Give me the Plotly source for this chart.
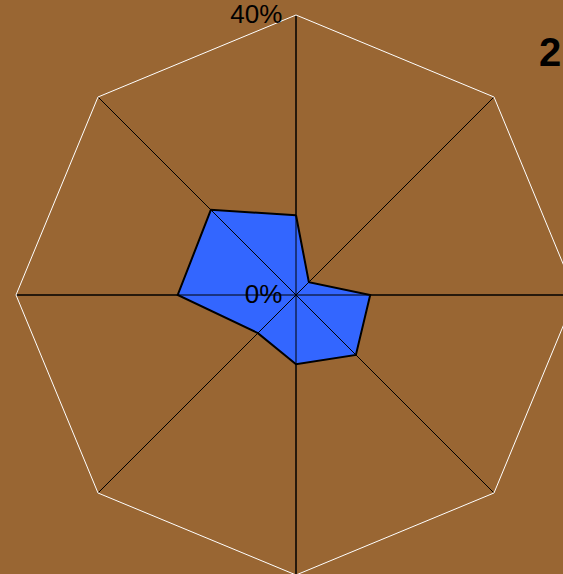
import plotly.graph_objects as go

directions = ["N", "NE", "E", "SE", "S", "SW", "W", "NW"]
shares = [11.4, 2.6, 10.6, 12.1, 9.9, 7.7, 16.9, 17.2]
radial_ticks = [0, 40]
radial_labels = ["0%", "40%"]
title_text = "2"

fig = go.Figure()
fig.add_trace(
    go.Scatterpolar(
        r=shares + shares[:1],
        theta=directions + directions[:1],
        mode="lines",
        fill="toself",
        fillcolor="#3366ff",
        line={"color": "#000000", "width": 2},
        hoverinfo="skip",
        showlegend=False,
    )
)

# spokes drawn over the filled area, as in the reference
spoke_r = []
spoke_theta = []
for direction in directions:
    spoke_r += [radial_ticks[0], radial_ticks[-1], None]
    spoke_theta += [direction, direction, direction]
fig.add_trace(
    go.Scatterpolar(
        r=spoke_r,
        theta=spoke_theta,
        mode="lines",
        line={"color": "#000000", "width": 1},
        hoverinfo="skip",
        showlegend=False,
    )
)

fig.update_layout(
    width=592,
    height=590,
    margin={"l": 16, "r": 16, "t": 15, "b": 15},
    paper_bgcolor="#996633",
    font={"family": "Liberation Sans, Arial, sans-serif", "color": "#000000"},
    title={
        "text": title_text,
        "x": 539 / 592,
        "xanchor": "left",
        "xref": "container",
        "y": 1 - 52 / 590,
        "yanchor": "middle",
        "yref": "container",
        "font": {"size": 40, "weight": "bold", "color": "#000000"},
    },
    polar={
        "bgcolor": "#996633",
        "gridshape": "linear",
        "radialaxis": {
            "range": [0, 40],
            "angle": 90,
            "side": "counterclockwise",
            "tickangle": 90,
            "tickvals": radial_ticks,
            "ticktext": radial_labels,
            "tickfont": {"size": 26, "color": "#000000"},
            "ticks": "outside",
            "ticklen": 4,
            "tickcolor": "rgba(0,0,0,0)",
            "showline": False,
            "showgrid": False,
        },
        "angularaxis": {
            "direction": "clockwise",
            "rotation": 90,
            "categoryorder": "array",
            "categoryarray": directions,
            "showticklabels": False,
            "ticks": "",
            "showline": True,
            "linecolor": "#ffffff",
            "linewidth": 1,
            "gridcolor": "#000000",
            "gridwidth": 1,
        },
    },
)

fig.write_html(
    "out.html",
    config={"displayModeBar": False},
    post_script="document.body.style.margin='0';document.body.style.overflow='hidden';",
)
